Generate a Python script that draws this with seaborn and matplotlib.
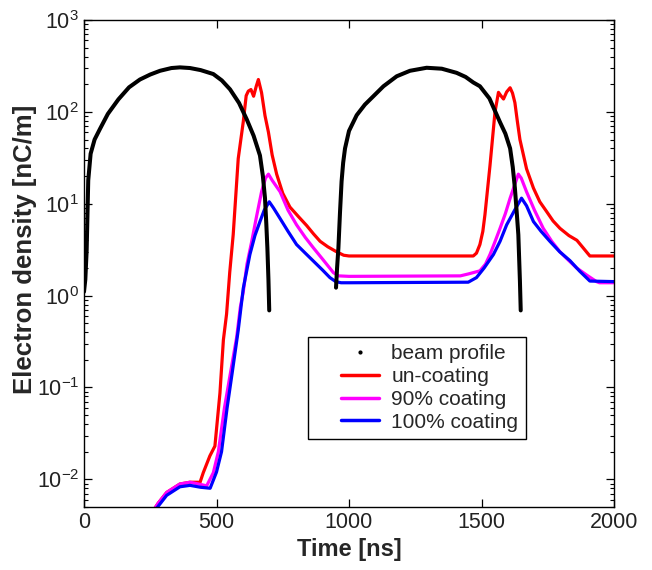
import numpy as np
import pandas as pd
import matplotlib
matplotlib.use("Agg")
import matplotlib.pyplot as plt
import seaborn as sns
from matplotlib.lines import Line2D
from matplotlib.legend_handler import HandlerLine2D

# ---------------- data ----------------
beam1_t = [0, 5, 10, 16, 25, 40, 60, 90, 130, 170, 211, 250, 287, 330, 362, 400, 440,
           488, 520, 551, 585, 614, 640, 664, 675, 683, 688, 692, 696, 699]
beam1_v = [1.1, 1.5, 3.1, 18, 35, 50, 65, 95, 137, 185, 225, 255, 280, 300, 305, 300, 285,
           258, 220, 176, 125, 83, 55, 33.5, 20, 11.5, 6, 3.3, 1.5, 0.69]
beam2_t = [951, 955, 960, 966, 972, 978, 985, 1000, 1029, 1060, 1092, 1130, 1180, 1230,
           1293, 1350, 1406, 1440, 1469, 1494, 1530, 1570, 1590, 1608, 1618, 1626, 1633,
           1639, 1645, 1648]
beam2_v = [1.22, 2, 3.3, 8, 17.5, 28, 40, 62, 92, 120, 148, 190, 244, 280,
           302, 295, 266, 240, 209, 190, 140, 77, 58, 40, 25, 14.8, 8,
           4.6, 1.44, 0.69]

uncoat_t = [260, 280, 312, 362, 400, 438, 450, 475, 494, 513, 526, 538, 550, 563, 582,
            601, 612, 620, 630, 640, 650, 658, 670, 683, 696, 710, 727, 750, 777, 810,
            840, 866, 891, 920, 953, 980, 1000, 1469, 1481, 1494, 1505, 1513, 1532, 1551,
            1564, 1573, 1583, 1595, 1608, 1617, 1626, 1635, 1645, 1670, 1696, 1720, 1746,
            1770, 1796, 1830, 1860, 1884, 1900, 1909, 2000]
uncoat_v = [0.0045, 0.0055, 0.0072, 0.0089, 0.0093, 0.0093, 0.0118, 0.018, 0.023, 0.087,
            0.33, 0.63, 1.8, 4.6, 31, 78, 150, 168, 175, 148, 190, 225, 162, 91, 60, 34,
            21, 13, 9.2, 7.2, 5.8, 4.7, 3.9, 3.4, 3.0, 2.75, 2.7, 2.7, 2.9, 3.6, 5, 7.6,
            26, 100, 163, 150, 138, 165, 183, 160, 126, 80, 50, 24, 14.8, 10.5, 8.2, 6.5,
            5.4, 4.5, 4.0, 3.3, 2.9, 2.7, 2.7]

coat90_t = [260, 280, 312, 362, 400, 440, 463, 488, 507, 530, 550, 576, 590, 601, 615,
            633, 650, 670, 685, 696, 710, 740, 770, 802, 835, 866, 900, 941, 960, 1000,
            1420, 1450, 1494, 1515, 1532, 1550, 1570, 1590, 1608, 1625, 1639, 1650, 1670,
            1700, 1733, 1765, 1796, 1830, 1859, 1900, 1934, 1945, 2000]
coat90_v = [0.0045, 0.0055, 0.0072, 0.0089, 0.0093, 0.0088, 0.0085, 0.0118, 0.02, 0.06,
            0.13, 0.35, 0.75, 1.1, 2.2, 3.9, 7, 13.5, 19, 21, 18, 13.5, 8.5, 5.9, 4.3, 3.3,
            2.5, 1.78, 1.64, 1.62, 1.64, 1.72, 1.86, 2.2, 2.8, 3.8, 5.4, 7.8, 11.5, 16, 21,
            19, 13.5, 8.5, 5.4, 3.9, 3.0, 2.4, 2.0, 1.65, 1.42, 1.38, 1.38]

coat100_t = [260, 280, 312, 362, 400, 440, 476, 500, 519, 540, 560, 582, 601, 626, 645,
             664, 680, 699, 715, 740, 770, 802, 835, 866, 900, 928, 950, 970, 1000, 1450,
             1481, 1510, 1545, 1570, 1595, 1625, 1651, 1670, 1696, 1725, 1758, 1795, 1834,
             1870, 1909, 2000]
coat100_v = [0.0042, 0.0051, 0.0067, 0.0083, 0.0086, 0.0082, 0.0080, 0.012, 0.02, 0.06,
             0.15, 0.42, 1.2, 2.8, 4.5, 6.4, 8.5, 10.5, 9, 6.9, 5, 3.6, 2.9, 2.37, 1.9,
             1.57, 1.42, 1.38, 1.38, 1.4, 1.57, 2.0, 2.8, 3.9, 5.9, 8.5, 11.5, 9.5, 6.4, 5,
             3.9, 3.0, 2.4, 1.85, 1.44, 1.42]

series_names = ["beam profile", "un-coating", "90% coating", "100% coating"]
x_ticks = [0, 500, 1000, 1500, 2000]

# ---------------- tables ----------------
beam = pd.concat([
    pd.DataFrame({"t": beam1_t, "v": beam1_v, "bunch": 1}),
    pd.DataFrame({"t": beam2_t, "v": beam2_v, "bunch": 2}),
])
curves = pd.concat([
    pd.DataFrame({"t": uncoat_t, "v": uncoat_v, "series": series_names[1]}),
    pd.DataFrame({"t": coat90_t, "v": coat90_v, "series": series_names[2]}),
    pd.DataFrame({"t": coat100_t, "v": coat100_v, "series": series_names[3]}),
])
colors = {series_names[1]: "#ff0000", series_names[2]: "#ff00ff", series_names[3]: "#0000ff"}

# ---------------- style ----------------
sns.set_theme(style="ticks")
plt.rcParams["font.family"] = ["Liberation Sans", "DejaVu Sans"]
plt.rcParams["mathtext.default"] = "regular"

fig = plt.figure(figsize=(6.52, 5.7), dpi=100)
ax = fig.add_axes([84 / 652, 1 - 507 / 570, 530 / 652, 487 / 570])

sns.lineplot(data=curves, x="t", y="v", hue="series", hue_order=series_names[1:],
             palette=colors, estimator=None, sort=False, lw=2.3, legend=False, ax=ax)
sns.lineplot(data=beam, x="t", y="v", units="bunch", estimator=None, sort=False,
             color="black", lw=2.9, legend=False, ax=ax, zorder=5)

ax.set_yscale("log")
ax.set_ylim(0.005, 1000)
ax.set_xlim(0, 2000)
ax.set_xticks(x_ticks)
ax.set_xticklabels([str(v) for v in x_ticks])
ax.xaxis.set_minor_locator(matplotlib.ticker.NullLocator())

for s in ax.spines.values():
    s.set_color("black")
    s.set_linewidth(1.0)
    s.set_visible(True)
ax.tick_params(which="both", direction="in", top=True, right=True, colors="black",
               labelsize=15.5, labelcolor="#222222")
ax.tick_params(which="major", length=6, width=0.9)
ax.tick_params(which="minor", length=3, width=0.8)

ax.set_xlabel("Time [ns]", fontsize=17, fontweight="bold", labelpad=4)
ax.set_ylabel("Electron density [nC/m]", fontsize=18.5, fontweight="bold")
ax.yaxis.set_label_coords((37 - 84) / 530, 0.53)


class RightLine(HandlerLine2D):
    """Legend line drawn only on the right part of the handle box."""
    def create_artists(self, legend, orig_handle, xdescent, ydescent, width, height,
                       fontsize, trans):
        arts = super().create_artists(legend, orig_handle, xdescent, ydescent, width,
                                      height, fontsize, trans)
        for a in arts:
            xd = np.asarray(a.get_xdata(), float)
            if len(xd) >= 2:
                a.set_xdata(np.linspace(xd[0] + 0.4 * (xd[-1] - xd[0]), xd[-1], len(xd)))
        return arts


handles = [
    Line2D([], [], color="black", marker=".", ls="none", ms=4),
    Line2D([], [], color="#ff0000", lw=2.5),
    Line2D([], [], color="#ff00ff", lw=2.5),
    Line2D([], [], color="#0000ff", lw=2.5),
]
leg = ax.legend(handles, series_names, loc="upper left",
                bbox_to_anchor=((308 - 84) / 530, (507 - 337) / 487),
                borderaxespad=0, fontsize=15, frameon=True, fancybox=False,
                edgecolor="black", framealpha=1, borderpad=0.35, labelspacing=0.18,
                handlelength=3.05, handletextpad=0.6,
                handler_map={Line2D: RightLine()})
leg.get_frame().set_linewidth(1.0)

fig.savefig("out.png", dpi=100)
